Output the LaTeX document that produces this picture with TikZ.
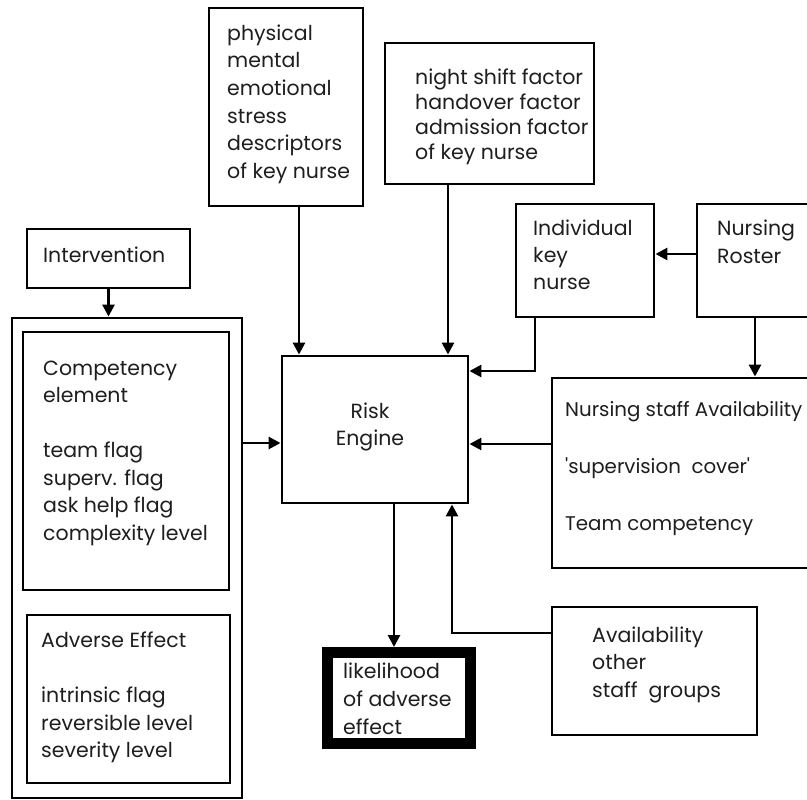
\documentclass[tikz,border=0pt]{standalone}
\usepackage{fontspec}
\setmainfont{Poppins}
\usetikzlibrary{arrows.meta}
\definecolor{ink}{RGB}{30,30,30}
\begin{document}
\begin{tikzpicture}[x=1pt,y=-1pt,
  box/.style={draw,line width=2.9pt,rectangle,inner sep=0pt},
  heavybox/.style={draw,line width=11pt,rectangle,inner sep=0pt},
  % texts are placed by the baseline of their last line
  txt/.style={anchor=base west,inner sep=0pt,align=left,text=ink,
    font=\fontsize{20.5}{#1}\selectfont},
  txt/.default=27.5,
  arr/.style={line width=2.7pt,-{Triangle[width=12pt,length=12pt]}}]
\fill[white] (0,0) rectangle (807,800);
\clip (0,0) rectangle (807,800);

% boxes
\node[box,minimum width=154pt,minimum height=198pt] (stress) at (286,107) {};
\node[box,minimum width=209pt,minimum height=141pt] (night) at (489.5,113.5) {};
\node[box,minimum width=138pt,minimum height=113pt] (keynurse) at (585,260.5) {};
\node[box,minimum width=133pt,minimum height=113pt] (roster) at (763.5,260.5) {};
\node[box,minimum width=163pt,minimum height=59pt] (interv) at (108.5,258.5) {};
\node[box,minimum width=230pt,minimum height=480pt] (outer) at (127,558) {};
\node[box,minimum width=206pt,minimum height=258pt] (compet) at (126,461) {};
\node[box,minimum width=203pt,minimum height=168pt] (adverse) at (128.5,699) {};
\node[box,minimum width=186pt,minimum height=147pt] (risk) at (375,429.5) {};
\node[box,minimum width=278pt,minimum height=190pt] (staffav) at (691,473) {};
\node[box,minimum width=205pt,minimum height=128pt] (otherst) at (654.5,671) {};
\node[heavybox,minimum width=143pt,minimum height=91pt] (likely) at (399,698) {};

% texts
\node[txt=27.7] (stresstxt) at (227,178.5) {physical\\mental\\emotional\\stress\\descriptors\\of key nurse};
\node[txt=25.3] (nighttxt) at (415,160) {night shift factor\\handover factor\\admission factor\\of key nurse};
\node[txt=27] (kntxt) at (533,289) {Individual\\key\\nurse};
\node[txt=28] (rostertxt) at (717,263) {Nursing\\Roster};
\node[txt] (intxt) at (43,262) {Intervention};
\node[txt] (comptxt) at (43,540) {Competency\\element\\[27.5pt]team flag\\superv. flag\\ask help flag\\complexity level};
\node[txt=27.5] (advtxt) at (41,757.5) {Adverse Effect\\[28pt]intrinsic flag\\reversible level\\severity level};
\node[txt=27,anchor=base,align=center] (risktxt) at (370,445) {Risk\\Engine};
\node[txt=28.3,font=\fontsize{19.8}{28.3}\selectfont] (satxt) at (565,530) {Nursing staff Availability\\[28.3pt]\textquotesingle supervision\ \ cover\textquotesingle\\[28.3pt]Team competency};
\node[txt=28] (lktxt) at (343,734) {likelihood\\of adverse\\effect};
\node[txt=27.5] (ostxt) at (592,697) {Availability\\other\\staff\ \ groups};

% bend and offset points of the connectors
\coordinate (sx) at (299,0);
\coordinate (nx) at (448,0);
\coordinate (kncorner) at (535,371);
\coordinate (ry) at (0,254);
\coordinate (rx) at (755,0);
\coordinate (say) at (0,444);
\coordinate (oy) at (0,443);
\coordinate (outx) at (394,0);
\coordinate (oscorner) at (452,633);

% connectors
\draw[arr] (interv.south) -- (outer.north -| interv.south);
\draw[arr] (stress.south -| sx) -- (risk.north -| sx);
\draw[arr] (night.south -| nx) -- (risk.north -| nx);
\draw[arr] (keynurse.south -| kncorner) -- (kncorner) -- (risk.east |- kncorner);
\draw[arr] (roster.west |- ry) -- (keynurse.east |- ry);
\draw[arr] (roster.south -| rx) -- (staffav.north -| rx);
\draw[arr] (staffav.west |- say) -- (risk.east |- say);
\draw[arr] (outer.east |- oy) -- (risk.west |- oy);
\draw[arr] (risk.south -| outx) -- (likely.north -| outx);
\draw[arr] (otherst.west |- oscorner) -- (oscorner) -- (risk.south -| oscorner);
\end{tikzpicture}
\end{document}
